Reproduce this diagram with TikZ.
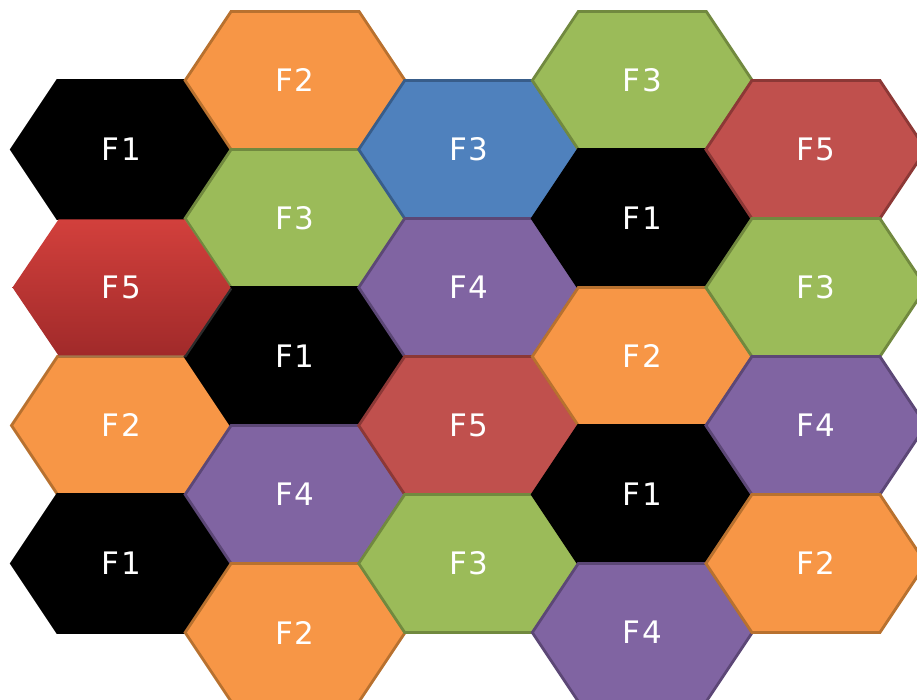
\documentclass[tikz,border=0pt]{standalone}
\usepackage{fontspec}
\setmainfont{DejaVu Sans}
\usetikzlibrary{shadows}
\definecolor{cblack}{HTML}{000000}
\definecolor{bblack}{HTML}{000000}
\definecolor{corange}{HTML}{F79646}
\definecolor{borange}{HTML}{B8712F}
\definecolor{cgreen}{HTML}{9BBB59}
\definecolor{bgreen}{HTML}{71893F}
\definecolor{cblue}{HTML}{4F81BD}
\definecolor{bblue}{HTML}{385D8A}
\definecolor{cred}{HTML}{C0504D}
\definecolor{bred}{HTML}{8C3836}
\definecolor{cpurple}{HTML}{8064A2}
\definecolor{bpurple}{HTML}{5C4776}
\definecolor{gtop}{HTML}{D2403C}
\definecolor{gbot}{HTML}{A12A2A}
\newcommand\hexlab[2]{#1\kern1.5pt#2}
\begin{document}
\begin{tikzpicture}[x=1pt,y=1pt,
  hexlabel/.style={text=white,font=\fontsize{31}{33}\selectfont},
  hexedge/.style={line width=2.8pt,line join=miter}]
\useasboundingbox (0,0) rectangle (917,700);
\clip (0,0) rectangle (917,700);
\foreach \c/\r/\f/\t in {
  0/1/black/1, 0/5/orange/2, 0/7/black/1,
  1/0/orange/2, 1/2/green/3, 1/4/black/1, 1/6/purple/4, 1/8/orange/2,
  2/1/blue/3, 2/3/purple/4, 2/5/red/5, 2/7/green/3,
  3/0/green/3, 3/2/black/1, 3/4/orange/2, 3/6/black/1, 3/8/purple/4,
  4/1/red/5, 4/3/green/3, 4/5/purple/4, 4/7/orange/2}{
  \pgfmathsetmacro\cx{121.5+173.6*\c}
  \pgfmathsetmacro\cy{700-(80.5+69*\r)}
  \filldraw[hexedge,fill=c\f,draw=b\f]
    (\cx-110,\cy) -- (\cx-64,\cy+69) -- (\cx+64,\cy+69) -- (\cx+110,\cy)
    -- (\cx+64,\cy-69) -- (\cx-64,\cy-69) -- cycle;
  \node[hexlabel] (h\c\r) at (\cx,\cy) {\hexlab{F}{\t}};
}
% gradient red hexagon with shadow
\pgfmathsetmacro\cx{121.5}
\pgfmathsetmacro\cy{700-(80.5+69*3)}
\shade[top color=gtop,bottom color=gbot,
  drop shadow={opacity=0.35,shadow xshift=1.5pt,shadow yshift=-2pt}]
    (\cx-109,\cy) -- (\cx-63,\cy+68) -- (\cx+63,\cy+68) -- (\cx+109,\cy)
    -- (\cx+63,\cy-68) -- (\cx-63,\cy-68) -- cycle;
\node[hexlabel] (h03) at (\cx,\cy) {\hexlab{F}{5}};
\end{tikzpicture}
\end{document}
